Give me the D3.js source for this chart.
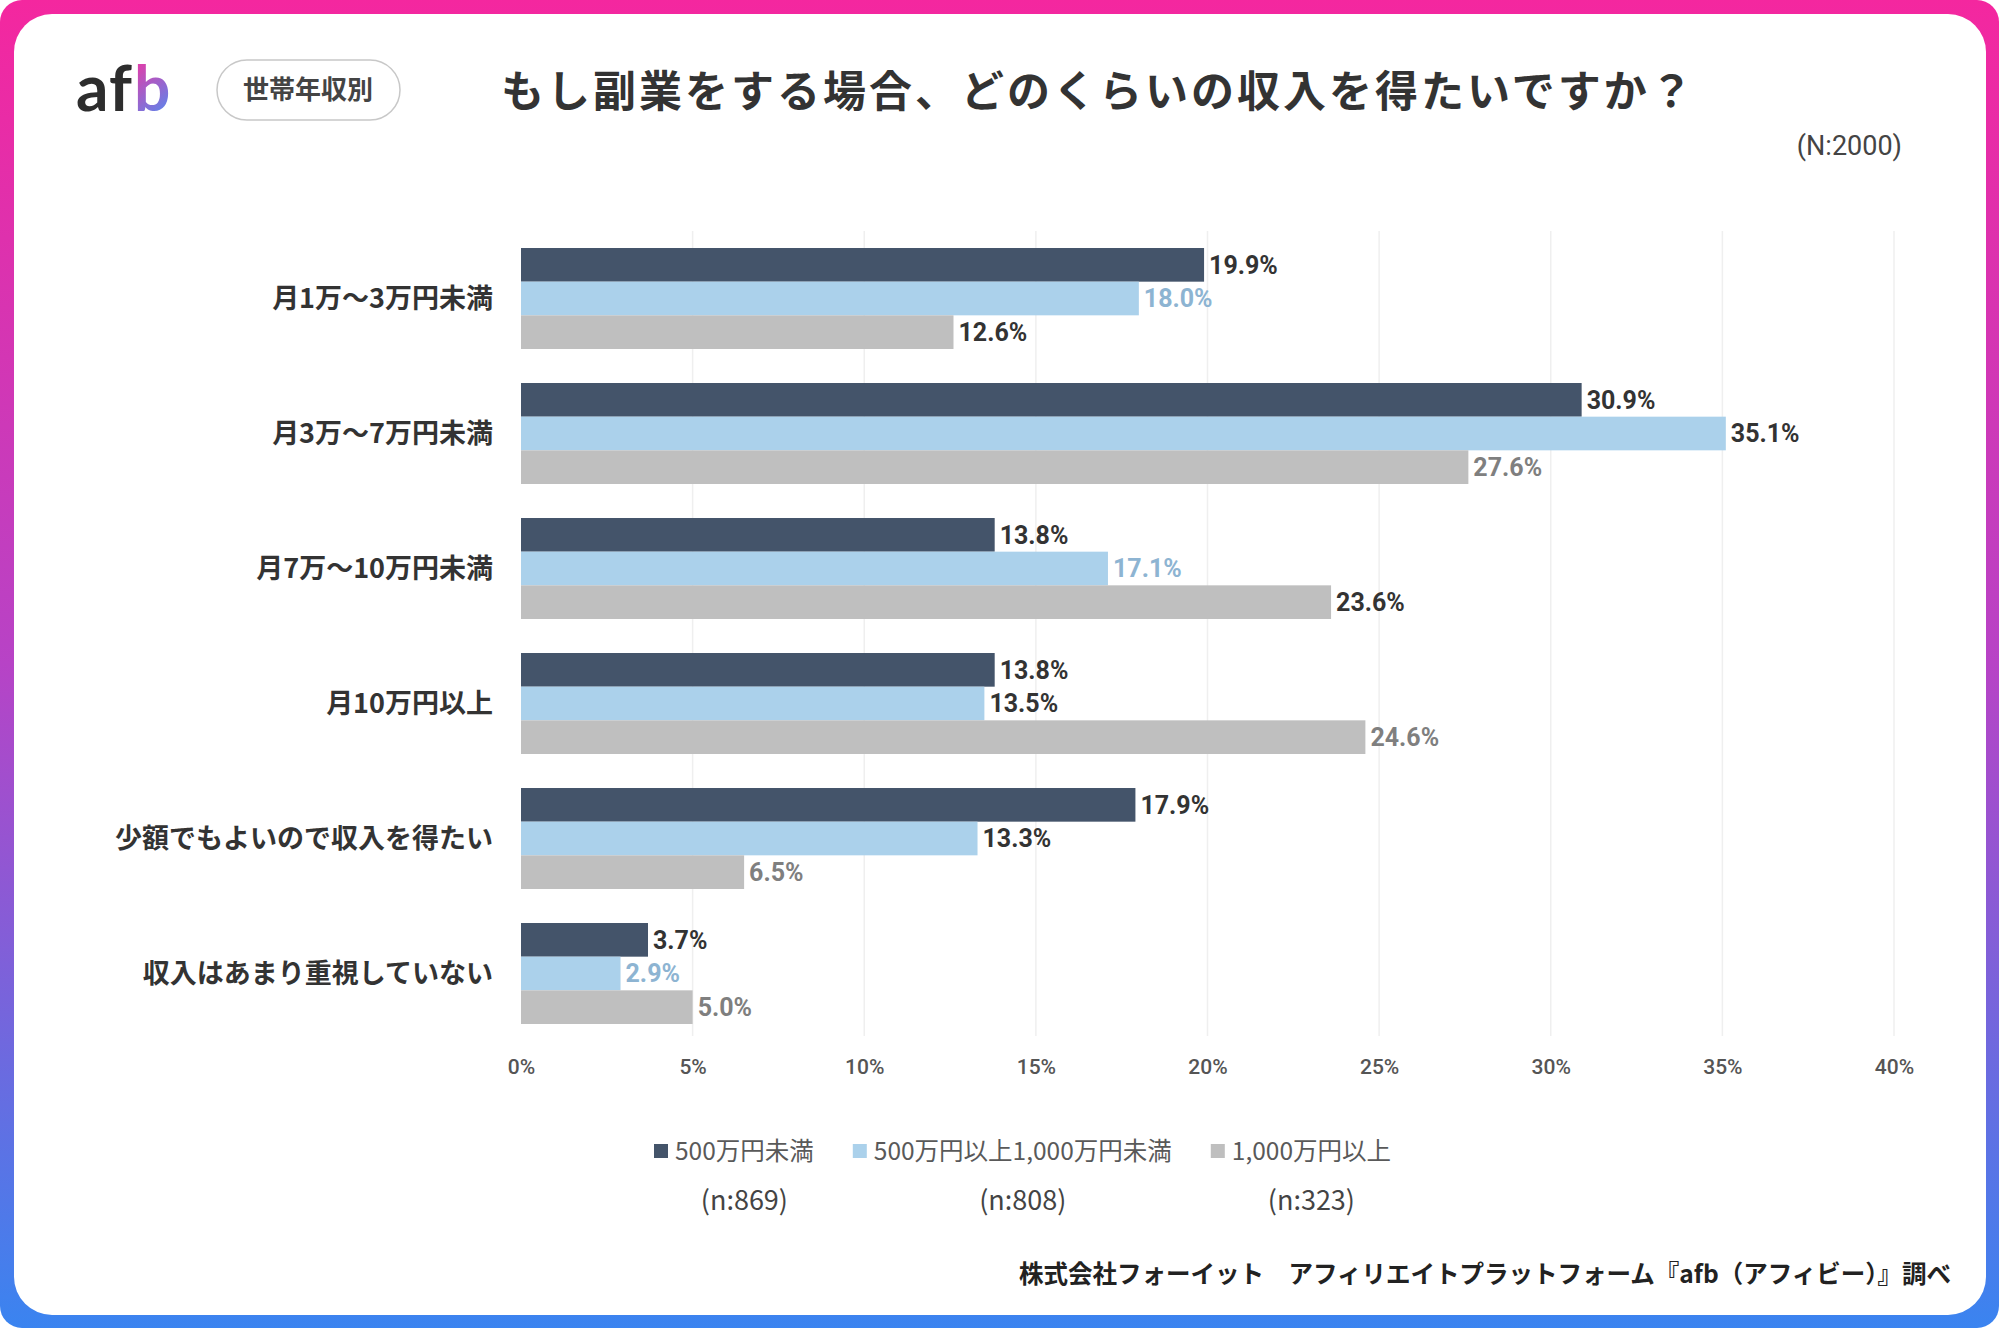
<!DOCTYPE html>
<html lang="ja">

<head>
    <meta charset="UTF-8">
    <title>もし副業をする場合、どのくらいの収入を得たいですか？</title>
    <style>
        html, body {
            margin: 0;
            padding: 0;
            background: #fff;
        }

        svg {
            display: block;
        }

        .jp {
            font-family: "Noto Sans CJK JP", "Noto Sans", sans-serif;
        }

        .num {
            font-family: Roboto, "Noto Sans", sans-serif;
        }
    </style>
</head>

<body>
    <div class="box"></div>
    <script src="https://d3js.org/d3.v7.min.js"></script>

    <script>
        const width = 1999;
        const height = 1328;

        // データ
        const categories = ['月1万～3万円未満', '月3万～7万円未満', '月7万～10万円未満', '月10万円以上', '少額でもよいので収入を得たい', '収入はあまり重視していない'];
        const seriesNames = ['500万円未満', '500万円以上1,000万円未満', '1,000万円以上'];
        const seriesN = ['(n:869)', '(n:808)', '(n:323)'];
        const under500 = [19.9, 30.9, 13.8, 13.8, 17.9, 3.7];
        const from500to1000 = [18.0, 35.1, 17.1, 13.5, 13.3, 2.9];
        const over1000 = [12.6, 27.6, 23.6, 24.6, 6.5, 5.0];
        const tickValues = [0, 5, 10, 15, 20, 25, 30, 35, 40];

        const series = [under500, from500to1000, over1000];
        const colors = ['#44546a', '#abd1eb', '#bfbfbf'];
        // ラベルの色 (元の図のとおり)
        const labelColors = [
            ['#333', '#333', '#333', '#333', '#333', '#333'],
            ['#8db4d2', '#333', '#8db4d2', '#333', '#333', '#8db4d2'],
            ['#333', '#7f7f7f', '#333', '#7f7f7f', '#7f7f7f', '#7f7f7f']
        ];

        const svg = d3.select('.box')
            .append('svg')
            .attr('width', width)
            .attr('height', height);

        const defs = svg.append('defs');

        // 枠のグラデーション
        const frameGrad = defs.append('linearGradient')
            .attr('id', 'frameGrad')
            .attr('x1', 0).attr('y1', 0).attr('x2', 0).attr('y2', 1);
        frameGrad.append('stop').attr('offset', '0%').attr('stop-color', '#f4279f');
        frameGrad.append('stop').attr('offset', '50%').attr('stop-color', '#b743c6');
        frameGrad.append('stop').attr('offset', '100%').attr('stop-color', '#3a84f0');

        const logoGrad = defs.append('linearGradient')
            .attr('id', 'logoGrad')
            .attr('gradientUnits', 'userSpaceOnUse')
            .attr('x1', 134).attr('y1', 62).attr('x2', 176).attr('y2', 112);
        logoGrad.append('stop').attr('offset', '0%').attr('stop-color', '#e83aa6');
        logoGrad.append('stop').attr('offset', '100%').attr('stop-color', '#4f8cf2');

        svg.append('rect')
            .attr('x', 0).attr('y', 0)
            .attr('width', width).attr('height', height)
            .attr('rx', 22)
            .attr('fill', 'url(#frameGrad)');

        svg.append('rect')
            .attr('x', 14).attr('y', 14)
            .attr('width', 1972).attr('height', 1301)
            .attr('rx', 38)
            .attr('fill', '#fff');

        // ロゴ
        svg.append('text')
            .attr('x', 76).attr('y', 111)
            .attr('font-family', 'Lato, Inter, sans-serif')
            .attr('font-weight', 700)
            .attr('font-size', 64)
            .attr('letter-spacing', 1)
            .attr('fill', '#2d2d2d')
            .text('af');
        svg.append('text')
            .attr('x', 134).attr('y', 111)
            .attr('font-family', 'Lato, Inter, sans-serif')
            .attr('font-weight', 700)
            .attr('font-size', 64)
            .attr('fill', 'url(#logoGrad)')
            .text('b');

        svg.append('rect')
            .attr('x', 217).attr('y', 60)
            .attr('width', 183).attr('height', 60)
            .attr('rx', 30)
            .attr('fill', '#fff')
            .attr('stroke', '#c8c8c8')
            .attr('stroke-width', 1.5);

        svg.append('text')
            .attr('class', 'jp')
            .attr('x', 308).attr('y', 90)
            .attr('dy', '0.35em')
            .attr('text-anchor', 'middle')
            .attr('font-size', 26)
            .attr('font-weight', 700)
            .attr('fill', '#444')
            .text('世帯年収別');

        // タイトル
        svg.append('text')
            .attr('class', 'jp')
            .attr('x', 501).attr('y', 92)
            .attr('dy', '0.35em')
            .attr('font-size', 43)
            .attr('font-weight', 700)
            .attr('letter-spacing', 3)
            .attr('fill', '#333')
            .text('もし副業をする場合、どのくらいの収入を得たいですか？');

        svg.append('text')
            .attr('class', 'num')
            .attr('x', 1902).attr('y', 146)
            .attr('dy', '0.35em')
            .attr('text-anchor', 'end')
            .attr('font-size', 27)
            .attr('fill', '#444')
            .text('(N:2000)');

        // 比例尺
        const x = d3.scaleLinear()
            .domain([0, 40])
            .range([521, 1894]);

        const y = d3.scaleBand()
            .domain(categories)
            .range([231, 1041])
            .paddingInner(0.252)
            .paddingOuter(0.126);

        const ySub = d3.scaleBand()
            .domain(d3.range(series.length))
            .range([0, y.bandwidth()]);

        // グリッド線
        svg.append('g')
            .selectAll('line')
            .data(tickValues.slice(1))
            .enter().append('line')
            .attr('x1', d => x(d)).attr('x2', d => x(d))
            .attr('y1', 231).attr('y2', 1036)
            .attr('stroke', '#efefef')
            .attr('stroke-width', 1.5);

        // 棒
        const groups = svg.append('g')
            .selectAll('g')
            .data(series)
            .enter().append('g')
            .attr('transform', (d, i) => `translate(0, ${ySub(i)})`);

        groups.each(function (values, si) {
            const g = d3.select(this);
            g.selectAll('rect')
                .data(values)
                .enter().append('rect')
                .attr('x', x(0))
                .attr('y', (d, i) => y(categories[i]))
                .attr('width', d => x(d) - x(0))
                .attr('height', ySub.bandwidth())
                .attr('fill', colors[si]);

            g.selectAll('text')
                .data(values)
                .enter().append('text')
                .attr('class', 'num')
                .attr('x', d => x(d) + 5)
                .attr('y', (d, i) => y(categories[i]) + ySub.bandwidth() / 2)
                .attr('dy', '0.36em')
                .attr('font-size', 25)
                .attr('font-weight', 700)
                .attr('fill', (d, i) => labelColors[si][i])
                .text(d => d.toFixed(1) + '%');
        });

        // カテゴリ
        svg.append('g')
            .selectAll('text')
            .data(categories)
            .enter().append('text')
            .attr('class', 'jp')
            .attr('x', 493)
            .attr('y', d => y(d) + y.bandwidth() / 2)
            .attr('dy', '0.35em')
            .attr('text-anchor', 'end')
            .attr('font-size', 27)
            .attr('font-weight', 700)
            .attr('fill', '#333')
            .text(d => d);

        // x軸
        const xAxis = d3.axisBottom(x)
            .tickValues(tickValues)
            .tickFormat(d => d + '%')
            .tickSize(0)
            .tickPadding(0);

        const axisG = svg.append('g')
            .attr('transform', 'translate(0, 1059)')
            .call(xAxis);
        axisG.select('.domain').remove();
        axisG.selectAll('text')
            .attr('font-family', 'Roboto, sans-serif')
            .attr('font-size', 21)
            .attr('font-weight', 500)
            .attr('fill', '#555');

        // 凡例
        const legend = svg.append('g');
        let lx = 654;
        seriesNames.forEach((name, i) => {
            legend.append('rect')
                .attr('x', lx).attr('y', 1144)
                .attr('width', 14).attr('height', 14)
                .attr('fill', colors[i]);
            const t = legend.append('text')
                .attr('class', 'jp')
                .attr('x', lx + 21).attr('y', 1151)
                .attr('dy', '0.35em')
                .attr('font-size', 24.5)
                .attr('fill', '#595959')
                .text(name);
            const w = t.node().getComputedTextLength();
            legend.append('text')
                .attr('class', 'jp')
                .attr('x', lx + 21 + w / 2).attr('y', 1201)
                .attr('dy', '0.35em')
                .attr('text-anchor', 'middle')
                .attr('font-size', 27)
                .attr('fill', '#444')
                .text(seriesN[i]);
            lx += 21 + w + 39;
        });

        // 出典
        svg.append('text')
            .attr('class', 'jp')
            .attr('x', 1951).attr('y', 1274)
            .attr('dy', '0.35em')
            .attr('text-anchor', 'end')
            .attr('font-size', 24.5)
            .attr('font-weight', 700)
            .attr('fill', '#222')
            .text('株式会社フォーイット　アフィリエイトプラットフォーム『afb（アフィビー）』調べ');
    </script>
</body>

</html>
